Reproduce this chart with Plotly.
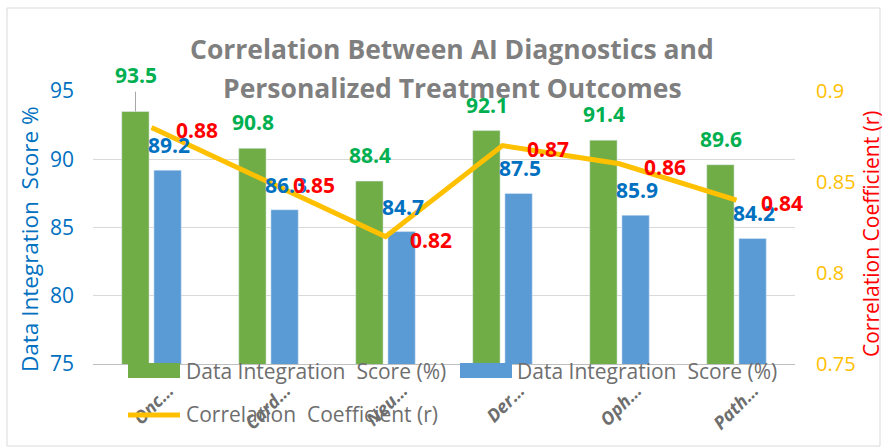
import plotly.graph_objects as go

categories = ["Oncology", "Cardiology", "Neurology", "Dermatology", "Ophthalmology", "Pathology"]
tick_labels = ["Onc…", "Card…", "Neu…", "Der…", "Oph…", "Path…"]
score_a = [93.5, 90.8, 88.4, 92.1, 91.4, 89.6]
score_b = [89.2, 86.3, 84.7, 87.5, 85.9, 84.2]
corr = [0.88, 0.85, 0.82, 0.87, 0.86, 0.84]

GREEN = "#70AD47"
BLUE = "#5B9BD5"
YELLOW = "#FFC000"
FONT = "Open Sans"
GRAY = "#6E6E6E"

W, H = 887, 447
L, R, T, B = 93, 92, 91, 83
PW, PH = W - L - R, H - T - B

def px(x):
    return (x - L) / PW

def py(y):
    return (H - B - y) / PH

fig = go.Figure()
fig.add_trace(go.Bar(x=categories, y=score_a, marker_color=GREEN, name="Data Integration  Score (%)", showlegend=False))
fig.add_trace(go.Bar(x=categories, y=score_b, marker_color=BLUE, name="Data Integration  Score (%)", showlegend=False))
fig.add_trace(go.Scatter(x=categories, y=corr, mode="lines", line=dict(color=YELLOW, width=5),
                         yaxis="y2", name="Correlation  Coefficient (r)", showlegend=False))

ann = []
for i, c in enumerate(categories):
    ann.append(dict(x=c, y=score_a[i], xref="x", yref="y", text=f"<b>{score_a[i]}</b>", showarrow=False,
                    xanchor="center", yanchor="middle",
                    xshift=-16, yshift=36 if i == 0 else 26, font=dict(family=FONT, size=21, color="#00B050")))
    ann.append(dict(x=c, y=score_b[i], xref="x", yref="y", text=f"<b>{score_b[i]}</b>", showarrow=False,
                    xanchor="center", yanchor="middle",
                    xshift=17, yshift=25, font=dict(family=FONT, size=21, color="#0070C0")))
    ann.append(dict(x=c, y=corr[i], xref="x", yref="y2", text=f"<b>{corr[i]:.2f}</b>", showarrow=False,
                    xanchor="center", yanchor="middle",
                    xshift=45, yshift=-3, font=dict(family=FONT, size=21, color="#FF0000")))

# Title
title_font = dict(family=FONT, size=26.5, color="#7F7F7F")
ann.append(dict(x=px(452), y=py(49), xref="paper", yref="paper", showarrow=False, xanchor="center", yanchor="middle",
                text="<b>Correlation Between AI Diagnostics and</b>", font=title_font))
ann.append(dict(x=px(452), y=py(88), xref="paper", yref="paper", showarrow=False, xanchor="center", yanchor="middle",
                text="<b>Personalized Treatment Outcomes</b>", font=title_font))

# Axis titles
ann.append(dict(x=px(29), y=py(239), xref="paper", yref="paper", showarrow=False, xanchor="center", yanchor="middle",
                textangle=-90, text="Data Integration\u00a0 Score %", font=dict(family=FONT, size=22.5, color="#0070C0")))
ann.append(dict(x=px(871), y=py(234), xref="paper", yref="paper", showarrow=False, xanchor="center", yanchor="middle",
                textangle=-90, text="Correlation Coefficient (r)", font=dict(family=FONT, size=21, color="#FF0000")))

# Manual legend
leg_font = dict(family=FONT, size=21, color=GRAY)
ann.append(dict(x=px(184), y=py(371), xref="paper", yref="paper", xanchor="left", yanchor="middle", showarrow=False,
                text="Data Integration\u00a0 Score (%)", font=leg_font))
ann.append(dict(x=px(515), y=py(371), xref="paper", yref="paper", xanchor="left", yanchor="middle", showarrow=False,
                text="Data Integration\u00a0 Score (%)", font=leg_font))
ann.append(dict(x=px(184), y=py(414), xref="paper", yref="paper", xanchor="left", yanchor="middle", showarrow=False,
                text="Correlation\u00a0 Coefficient (r)", font=leg_font))

shapes = [
    dict(type="rect", xref="paper", yref="paper", x0=px(7), x1=px(880), y0=py(446), y1=py(8),
         line=dict(color="#D9D9D9", width=1), layer="below"),
    dict(type="rect", xref="paper", yref="paper", x0=px(128), x1=px(180), y0=py(378), y1=py(363),
         fillcolor=GREEN, line=dict(width=0)),
    dict(type="rect", xref="paper", yref="paper", x0=px(460), x1=px(512), y0=py(378), y1=py(363),
         fillcolor=BLUE, line=dict(width=0)),
    dict(type="line", xref="paper", yref="paper", x0=px(128), x1=px(180), y0=py(415), y1=py(415),
         line=dict(color=YELLOW, width=5)),
    # leader line for first label
    dict(type="line", xref="x", yref="y", x0=-0.137, x1=-0.137, y0=score_a[0], y1=score_a[0] + 1.45,
         line=dict(color="#A6A6A6", width=1)),
]

fig.update_layout(
    width=W, height=H,
    margin=dict(l=L, r=R, t=T, b=B, autoexpand=False),
    paper_bgcolor="white", plot_bgcolor="white",
    barmode="group", bargap=0.45, bargroupgap=0.15,
    showlegend=False,
    font=dict(family=FONT),
    xaxis=dict(type="category", range=[-0.5, 5.5], tickmode="array", tickvals=categories, ticktext=tick_labels,
               tickangle=-45, tickfont=dict(family=FONT, size=18, color="#6E6E6E", style="italic", weight="bold"),
               showline=True, linecolor="#BFBFBF", ticks="", ticklabelstandoff=8, ticklabelshift=17,
               automargin=False),
    yaxis=dict(range=[75, 95], dtick=5, showgrid=True, gridcolor="#D9D9D9", zeroline=False, automargin=False,
               tickfont=dict(family=FONT, size=21, color="#0070C0"), ticklabelstandoff=18),
    yaxis2=dict(range=[0.75, 0.9], dtick=0.05, overlaying="y", side="right", showgrid=False, zeroline=False, automargin=False,
                tickfont=dict(family=FONT, size=20, color=YELLOW), ticklabelstandoff=20),
    annotations=ann,
    shapes=shapes,
)

fig.write_html("out.html", config={"displayModeBar": False},
               post_script="document.body.style.margin='0px';document.body.style.overflow='hidden';")
